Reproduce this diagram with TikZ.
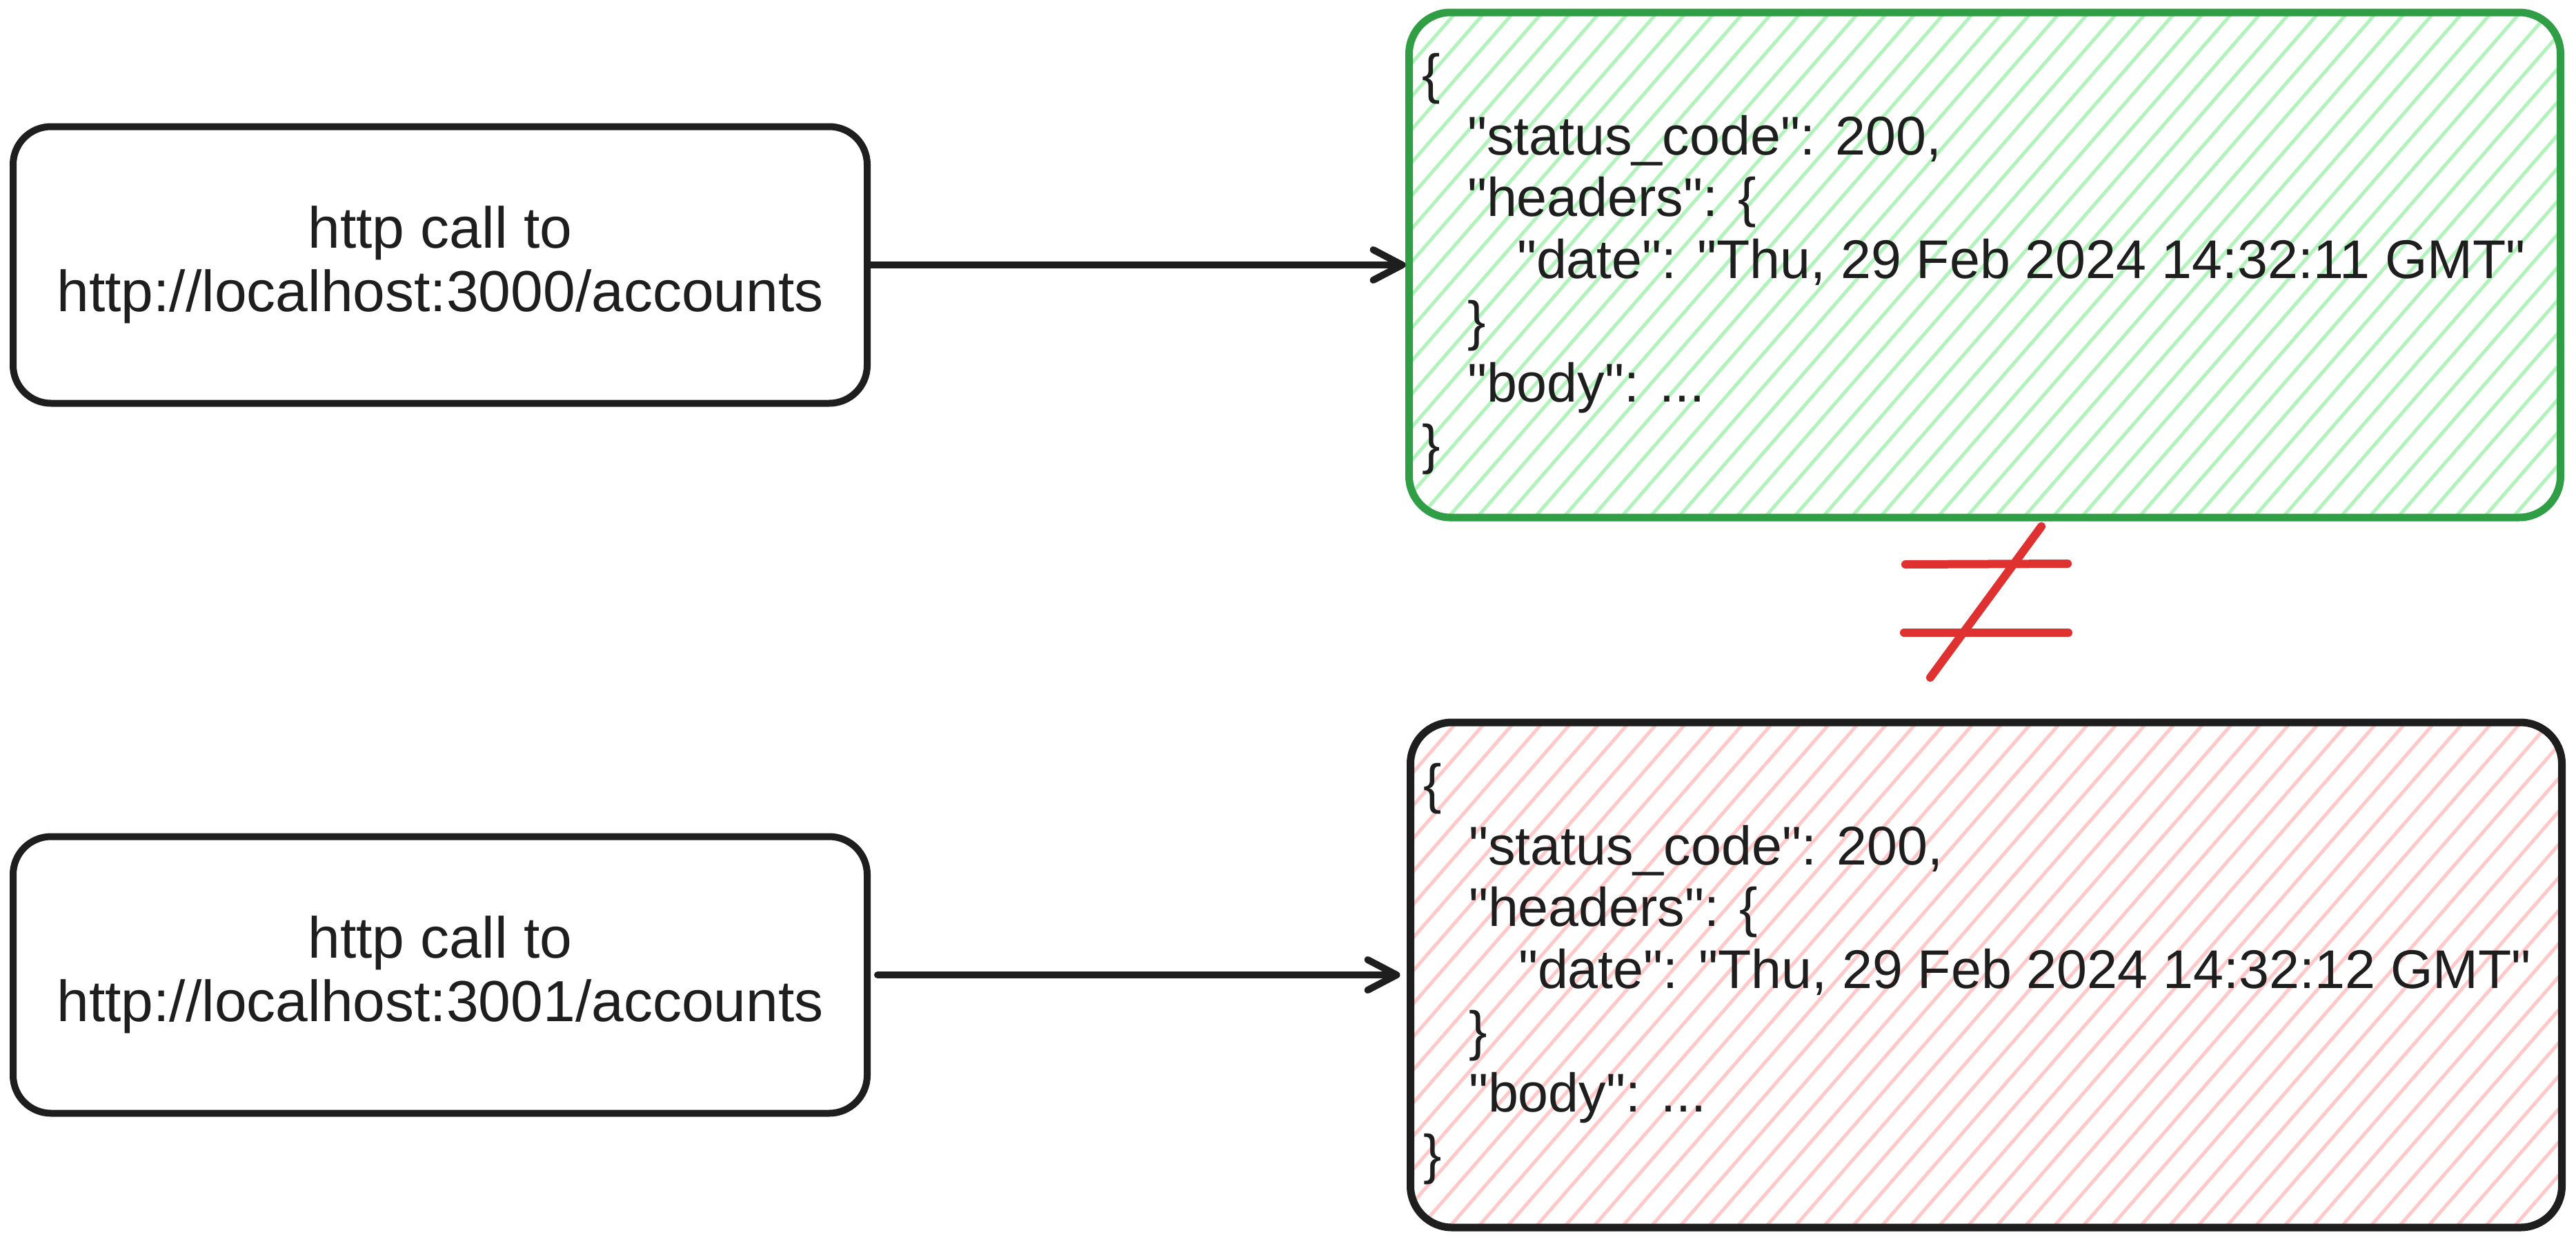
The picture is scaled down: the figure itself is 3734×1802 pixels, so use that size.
\documentclass[tikz,border=0pt]{standalone}
\usepackage{fontspec}
\setmainfont{Liberation Sans}[Ligatures=TeXOff]
\usetikzlibrary{arrows.meta,backgrounds}
\definecolor{ink}{HTML}{1E1E1E}
\definecolor{okgreen}{HTML}{2F9E44}
\definecolor{okhatch}{HTML}{B2F2BB}
\definecolor{badhatch}{HTML}{FFC9C9}
\definecolor{badred}{HTML}{E03131}
\begin{document}
\begin{tikzpicture}[x=1pt,y=-1pt,
  callbox/.style={draw=ink, line width=10pt, rounded corners=55pt, minimum width=1238pt, minimum height=401pt,
    inner sep=0pt, outer sep=0pt, align=center, font=\fontsize{84}{92}\selectfont, text=ink},
  jsonbox/.style={line width=11pt, rounded corners=60pt, minimum width=1669pt, minimum height=732pt,
    inner sep=0pt, outer sep=0pt},
  jsonline/.style={anchor=base west, inner sep=0pt, outer sep=0pt, font=\fontsize{79}{90}\selectfont, text=ink},
  hatchline/.style={line width=5pt},
  connector/.style={draw=ink, line width=10pt, line cap=round, line join=round,
    -{Straight Barb[length=42pt,width=44pt,round]}},
  neqline/.style={draw=badred, line width=12pt, line cap=round}]
\useasboundingbox (0,0) rectangle (3734,1802);

% request boxes
\node[callbox] (call1) at (638,384) {http call to\\http://localhost:3000/accounts};
\node[callbox] (call2) at (638,1413) {http call to\\http://localhost:3001/accounts};

% response boxes
\node[jsonbox, draw=okgreen] (resp1) at (2877,384) {};
\node[jsonbox, draw=ink] (resp2) at (2879,1413) {};

\begin{scope}[on background layer]
  \fill[white] (0,0) rectangle (3734,1802);
  \begin{scope}
    \clip[rounded corners=60pt] (resp1.north west) rectangle (resp1.south east);
    \foreach \k in {0,...,60} \draw[hatchline, okhatch] ({1340+\k*41.7},760) -- ++(661,-760);
  \end{scope}
  \begin{scope}
    \clip[rounded corners=60pt] (resp2.north west) rectangle (resp2.south east);
    \foreach \k in {0,...,60} \draw[hatchline, badhatch] ({1340+\k*41.7},1790) -- ++(661,-760);
  \end{scope}
\end{scope}

% response texts (200 / 11 GMT)
\node[jsonline] (a1) at (2061,134) {\{};
\node[jsonline] (a2) at (2127,224) {"status\_code": 200,};
\node[jsonline] (a3) at (2127,313) {"headers": \{};
\node[jsonline] (a4) at (2199,403) {"date": "Thu, 29 Feb 2024 14:32:11 GMT"};
\node[jsonline] (a5) at (2127,492) {\}};
\node[jsonline] (a6) at (2127,582) {"body": ...};
\node[jsonline] (a7) at (2061,671) {\}};

\node[jsonline] (b1) at (2063,1163) {\{};
\node[jsonline] (b2) at (2129,1253) {"status\_code": 200,};
\node[jsonline] (b3) at (2129,1342) {"headers": \{};
\node[jsonline] (b4) at (2201,1432) {"date": "Thu, 29 Feb 2024 14:32:12 GMT"};
\node[jsonline] (b5) at (2129,1521) {\}};
\node[jsonline] (b6) at (2129,1611) {"body": ...};
\node[jsonline] (b7) at (2063,1700) {\}};

% connectors
\draw[connector, shorten <=5pt, shorten >=5pt] (call1) -- (resp1);
\draw[connector, shorten <=15pt, shorten >=15pt] (call2) -- (resp2);

% not-equal sign
\draw[neqline] (2762,818) -- (2997,817);
\draw[neqline] (2760,917) -- (2998,917);
\draw[neqline] (2959,763) -- (2798,982);
\end{tikzpicture}
\end{document}
